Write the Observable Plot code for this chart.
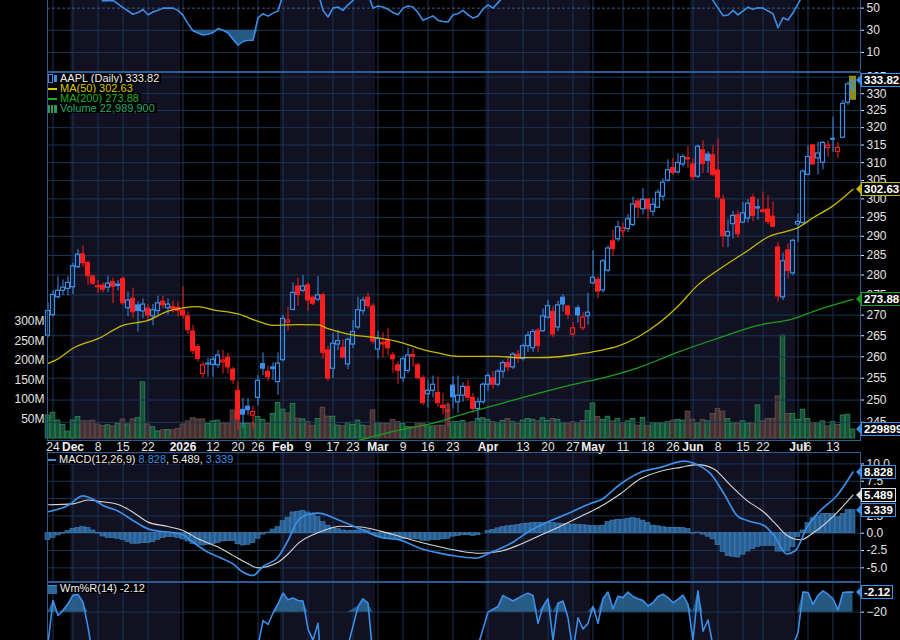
<!DOCTYPE html>
<html><head><meta charset="utf-8">
<script src="https://cdn.jsdelivr.net/npm/d3@7"></script>
<script src="https://cdn.jsdelivr.net/npm/@observablehq/plot@0.6"></script>
<style>
body{margin:0;background:#000;}
#chart{position:relative;width:900px;height:640px;background:#000;overflow:hidden;font-family:"Liberation Sans",Arial,sans-serif;}
.panel{position:absolute;left:0;line-height:0;}
.tag{position:absolute;left:861px;height:12px;line-height:12px;padding:0 2px;background:#050505;color:#fff;font-weight:bold;font-size:11.5px;white-space:nowrap;}
.arrow{position:absolute;left:856px;width:0;height:0;border-top:5px solid transparent;border-bottom:5px solid transparent;}
.leg{position:absolute;left:48px;font-size:11px;height:10px;line-height:10px;white-space:nowrap;background:#000;padding-right:2px;}
.icon{display:inline-block;vertical-align:middle;margin-right:3px;}
</style></head><body><div id="chart"></div>
<script>
// ---------------- DATA ----------------
// trading-day index 0 = 2025-11-21 ... 161 = 2026-07-17
const tickIndex = [1,5,10,15,20,27,33,38,42,47,52,57,61,66,71,76,81,88,95,100,105,109,115,120,125,129,134,139,143,150,152,157];
const tickText  = ["24","Dec","8","15","22","2026","12","20","26","Feb","9","17","23","Mar","9","16","23","Apr","13","20","27","May","11","18","26","Jun","8","15","22","Jul","6","13"];
const shadeFrom = [4.5, 46.5, 87.5, 128.5];
const shadeTo   = [26.5, 65.5, 108.5, 149.5];

const open = [265.0,270.0,274.4,276.0,276.5,276.9,282.0,285.3,283.1,279.6,277.2,277.3,276.8,278.2,277.6,279.0,271.7,274.0,272.4,270.9,271.6,269.7,271.0,273.3,271.7,272.0,271.8,271.1,269.7,266.0,262.3,256.0,258.4,258.1,258.0,258.7,259.8,257.0,252.1,247.8,248.5,246.5,250.5,258.3,256.5,257.5,254.1,259.2,268.2,271.3,277.1,276.0,277.4,274.3,273.8,274.9,261.5,257.2,262.9,262.1,258.2,262.9,267.0,271.0,274.3,272.1,261.7,263.3,264.0,260.3,258.0,255.0,256.7,260.4,258.0,255.0,251.3,252.1,251.6,248.7,247.6,253.3,249.5,251.0,253.0,250.5,248.0,249.5,253.5,255.0,253.5,256.5,258.5,257.5,260.5,259.5,262.5,262.0,266.2,266.1,269.4,270.8,267.0,274.3,272.1,265.3,271.7,266.8,269.7,277.9,278.8,276.1,281.1,288.7,289.2,291.3,291.9,293.0,299.3,297.2,299.8,296.5,297.6,300.6,305.0,308.5,307.3,309.5,311.3,309.5,306.1,313.5,312.3,312.1,307.8,299.8,290.0,293.2,295.6,293.6,294.7,300.3,297.4,296.9,297.1,295.2,287.1,274.4,286.3,280.4,293.1,293.5,306.6,314.9,311.2,310.0,314.1,316.8,313.0,317.1,327.3,331.5];
const high = [273.0,276.0,279.5,278.8,279.5,283.0,286.5,287.5,283.5,280.0,278.6,278.0,279.7,279.2,278.6,279.6,275.7,276.7,273.3,274.0,272.6,272.6,274.7,274.7,274.0,273.5,273.2,277.0,270.8,267.5,263.0,258.8,259.6,260.0,261.5,261.5,260.8,257.5,254.1,250.4,250.3,248.6,255.6,260.9,257.8,258.6,260.9,269.9,272.0,278.0,279.2,279.9,278.0,274.7,279.6,275.5,262.5,265.6,266.3,264.0,264.5,268.7,274.4,274.4,275.4,272.8,266.0,265.7,266.7,261.0,258.8,260.0,262.0,261.8,258.5,255.6,254.6,255.5,255.2,251.5,249.5,255.3,255.5,254.0,254.5,251.5,250.5,254.0,256.0,256.5,257.0,259.0,260.0,261.0,261.5,263.0,266.0,266.5,266.8,271.5,273.6,272.1,273.4,275.1,272.4,268.2,272.4,270.6,275.4,286.2,279.5,284.0,287.5,291.6,294.0,293.5,295.8,300.5,300.0,302.8,300.0,300.0,302.5,305.5,310.8,311.2,312.6,312.3,314.6,311.0,315.0,316.2,313.0,314.8,316.7,301.0,294.4,296.6,296.7,299.0,299.8,301.2,299.8,301.9,300.8,299.2,288.4,285.6,288.0,289.2,296.0,308.0,314.8,315.0,315.8,316.0,316.2,323.1,315.8,328.0,333.5,334.6];
const low = [264.5,269.5,274.0,274.8,274.8,275.1,281.6,282.0,277.4,277.4,275.3,275.5,275.6,272.8,276.0,272.4,269.6,269.2,265.9,269.1,268.5,267.4,269.9,271.5,270.0,270.5,269.6,269.0,265.3,260.5,258.8,254.9,255.2,255.2,257.3,256.0,256.0,253.6,243.2,243.7,246.5,243.5,248.7,255.6,254.2,254.5,251.0,258.8,266.0,271.0,272.1,275.5,270.9,272.3,273.3,259.4,254.3,254.9,261.4,259.5,257.0,262.0,266.5,270.0,271.5,263.0,259.5,259.7,260.2,256.2,253.6,254.0,256.0,257.5,254.5,248.8,248.2,250.5,248.4,246.7,244.0,248.0,247.0,249.5,249.8,247.0,245.5,249.0,252.0,252.5,253.0,255.0,256.5,257.0,258.5,259.0,261.0,261.0,261.0,265.8,269.0,264.5,266.0,270.7,268.9,264.6,268.0,266.2,267.5,277.5,274.0,275.5,280.5,284.7,288.5,289.6,291.0,292.5,294.7,295.7,294.5,295.3,297.5,299.3,304.5,306.4,306.8,308.7,308.4,305.0,305.6,307.0,307.0,306.0,299.8,287.0,287.0,289.3,289.5,293.5,293.5,293.8,294.2,296.1,293.1,292.3,273.2,273.6,279.0,279.8,288.4,293.0,306.4,309.3,306.6,308.0,311.5,312.9,311.2,316.8,326.5,330.0];
const close = [271.0,275.0,276.0,276.8,278.0,282.2,285.2,283.0,279.7,277.8,276.9,276.3,277.8,277.0,277.2,272.9,273.6,270.7,271.0,272.6,269.9,271.2,272.9,272.4,272.6,271.5,271.0,269.9,266.3,261.4,259.5,258.0,258.2,259.3,260.3,259.1,257.5,254.5,245.6,246.7,247.7,247.3,254.4,257.2,255.2,257.1,258.4,269.1,268.7,275.5,275.0,277.1,273.6,272.8,274.9,260.9,254.9,263.1,263.7,259.8,264.0,265.9,271.2,273.6,272.2,263.6,264.2,262.9,262.0,259.4,256.7,259.4,260.3,260.0,255.0,249.3,252.1,253.5,249.3,248.2,247.4,250.6,251.0,253.0,250.5,248.0,249.5,253.5,255.5,253.5,256.5,258.5,257.5,260.5,259.5,262.5,265.0,265.9,262.5,269.7,272.2,265.3,272.4,272.6,270.1,266.8,269.9,269.4,270.6,279.3,275.8,283.5,286.8,286.6,292.4,292.1,294.5,298.5,297.6,299.8,297.2,298.4,301.7,304.4,307.9,307.1,309.9,311.6,310.9,305.9,314.5,309.6,310.5,306.6,300.4,290.0,291.1,295.4,290.5,296.1,298.7,295.4,297.7,296.4,293.8,292.5,274.6,283.5,281.0,288.8,293.8,307.5,311.6,309.5,312.6,315.6,314.8,316.5,314.2,327.0,332.8,333.82];
const volumeM = [59,66,46,35,18,46,55,44,44,46,36,32,34,31,38,49,36,49,52,144,36,29,18,21,22,21,25,36,44,52,49,49,38,44,46,38,38,72,60,38,37,39,55,48,37,63,91,74,64,89,51,49,42,33,50,79,56,56,33,31,40,35,46,33,31,72,40,38,38,48,42,38,29,29,39,38,31,31,33,33,87,42,42,45,40,42,50,52,48,42,40,45,50,42,38,46,50,48,44,52,45,50,48,40,38,42,40,45,70,90,55,48,56,44,50,40,44,50,33,53,33,40,39,40,42,46,48,46,69,48,39,48,44,63,76,69,50,39,38,44,38,40,85,44,50,50,108,264,63,63,48,74,50,40,40,44,31,42,35,59,61,22.9899];

const ma50Index = [0,2,5,10,15,20,24,27,30,33,38,42,45,50,54,56,60,66,70,75,78,82,90,94,98,102,106,110,114,118,122,126,130,135,140,144,148,150,153,157,161];
const ma50Value = [258.4,259.5,262.0,264.3,267.5,268.7,271.0,271.8,272.1,271.3,270.3,268.5,267.5,267.7,267.6,266.7,265.4,264.5,263.6,261.7,260.9,260.1,260.1,259.8,259.8,260.0,260.6,261.4,262.5,264.7,267.9,272.2,277.5,282.1,286.3,289.8,291.4,292.3,294.9,298.1,302.63];
const ma200Index = [62,70,78,82,90,98,106,110,118,126,134,142,149,154,161];
const ma200Value = [241.0,243.2,245.1,246.5,249.0,251.5,253.8,254.8,257.4,261.1,264.4,267.5,269.1,271.3,273.88];

const macdIndex = [0,4,7,9,11,14,17,20,22,24.5,27,29,32,34.5,37,39,41,43,46,48,50,52,54,58.5,62.5,66.5,70.5,74.5,78.5,82.5,85.5,88.5,92.5,96.5,100.5,104.5,108.5,110.5,114.5,118.5,122.5,127.2,129.8,132.5,135.2,137.8,139.8,143.2,145.2,147.8,149.5,151.8,154.5,157.8,161];
const macdValue = [3.1,4.0,5.4,4.9,4.0,3.2,1.83,0.63,0.29,0.14,-0.23,-1.3,-2.74,-3.55,-4.42,-5.63,-6.1,-4.8,-3.46,-1.05,1.83,2.7,2.9,1.8,0.6,-0.6,-1.0,-2.2,-2.9,-3.4,-3.6,-2.8,-1.5,0.4,1.8,3.0,4.3,4.8,7.1,8.8,9.5,10.4,9.9,8.6,5.7,2.55,1.83,1.1,-0.33,-3.0,-2.5,0.87,3.3,5.44,8.828];
const signalIndex = [0,5,8,10,14,17,20,24,27,30,34,37,40,42,46,48,50,54.5,58.5,62.5,66.5,70.5,74.5,78.5,82.5,86.5,90.5,94.5,98.5,102.5,106.5,110.5,114.5,118.5,122.5,126.5,129.8,133.1,136.5,139.8,143.2,145.2,147.8,150.5,153.2,157.2,161];
const signalValue = [4.1,4.24,4.8,4.6,4.14,3.03,1.6,0.97,0.39,-0.81,-2.0,-3.2,-4.4,-5.0,-4.2,-3.0,-1.5,0.2,1.0,0.9,0.3,-0.5,-1.3,-2.0,-2.6,-2.9,-2.6,-1.6,-0.3,1.0,2.4,3.85,5.7,7.85,8.95,9.5,9.9,9.3,6.9,4.7,3.03,1.6,-0.33,-0.95,0.14,2.55,5.489];
const histValue = [-1.0,-0.67,-0.33,-0.05,0.3,0.63,0.77,0.87,0.77,0.39,-0.05,-0.48,-0.67,-0.72,-0.8,-0.96,-1.3,-1.53,-1.53,-1.44,-1.44,-1.3,-0.96,-0.72,-0.58,-0.58,-0.72,-0.9,-1.2,-1.53,-1.68,-1.78,-1.68,-1.6,-1.44,-1.2,-1.15,-1.15,-1.6,-1.78,-1.68,-1.44,-0.8,-0.2,0.1,0.53,0.87,1.73,2.2,3.0,3.1,3.2,3.0,2.7,2.3,1.6,1.1,0.8,0.6,0.4,0.3,0.3,0.4,0.5,0.4,-0.1,-0.5,-0.7,-0.8,-0.9,-1.0,-0.9,-0.8,-0.8,-0.9,-1.1,-1.1,-1.0,-1.0,-0.9,-0.8,-0.5,-0.4,-0.3,-0.3,-0.4,-0.3,0,0.3,0.5,0.7,0.9,1.0,1.1,1.2,1.3,1.4,1.5,1.5,1.5,1.5,1.45,1.4,1.35,1.3,1.25,1.2,1.15,1.1,1.05,1.0,1.1,1.6,1.83,1.95,1.95,2.1,2.2,2.05,1.83,1.5,1.1,1.0,0.87,0.8,0.8,0.8,0.75,0.63,-0.05,0.1,-0.2,-0.5,-0.9,-1.73,-2.7,-3.3,-3.4,-3.5,-3.1,-2.65,-2.3,-2.0,-1.83,-1.83,-1.83,-2.65,-2.65,-2.65,-2.0,-0.55,0.4,1.45,2.15,2.5,2.8,2.8,2.8,2.3,2.8,3.34,3.339];

const rsiIndex = [0,10,11,13,15,17,18,19,20,21,22,23,25,26,27,28,29,30,31,32,33,34,35,36,37,38,39,40,41,42,43,44,45,46,47,54,55,56,57,58,59,60,61,62,64,65,66,67,68,69,70,71,72,73,74,75,76,77,78,79,80,81,82,83,84,85,86,87,88,89,90,91,108,109,132,133,135,136,137,138,140,141,142,143,145,146,147,148,149,150,151,161];
const rsiValue = [65,62,56.5,57,50.5,44.5,46,48.8,44,46.5,48,50,50,48,43.5,36,29.5,27.5,25.8,26.5,28,31.5,30,27.5,22,16.7,20,21,21,41.3,45,42.8,45.5,47.5,62,64,48,42,50,51,48,53,57,62,63,50,52,51,49,46,44,50,52,51,46,39,41,43,39,38,37.5,44,45,48,44,41,43,49,53,50,55,60,62,70,70,57,43.2,43.8,48,43.9,50.9,49,50.3,50,45,32.3,41.3,39.3,45.8,53.9,62,80];

const wrIndex = [0,1,2,3,4,5,6,7,8,9,25,41,42,43,44,45,46,47,48,49,50,51,52,53,54,55,60,62,63,64,65,86,88,90,91,93,95,96,97,98,99,100,101,102,103,104,105,106,107,108,109,110,111,112,113,114,115,116,117,118,119,120,121,122,123,124,125,126,127,128,129,130,131,132,133,148,149,150,151,152,153,154,155,156,157,158,159,160,161];
const wrValue = [-48,-9.6,-23,-18.5,-12.5,-5,-4.2,-11,-33.4,-60,-80,-80,-50,-27.5,-31,-21,-12.7,-2.9,-9,-7.4,-9.6,-10,-35,-45,-30,-85,-50,-15,-8,-12,-60,-50,-20,-15,-5,-10,-5,-3,-5,-30,-15,-8,-45,-12,-10,-25,-55,-25,-35,-30,-15,-30,-8,-2,-17,-5.8,-7,-2.1,-6,-8,-9.5,-14.5,-11.6,-6,-4,-7,-11.6,-8.6,-4.8,-13,-45,-1,-37,-27,-50,-60,-50,-38,-2,-2.5,-13,-5,-1,-4,-8,-18,-2.5,-2.1,-2.12];

// ---------------- STYLE ----------------
const COL = {shade:"#111122", grid:"#1a3556", frame:"#2a5d92", blue:"#3a8fe8", red:"#ff1c1c", text:"#e4e4e4"};
const FONT = "'Liberation Sans', Arial, sans-serif";
const W = 900, ML = 47, MR = 40;
const XDOM = [-0.1, 162.5];

const bars = close.map((c, i) => ({
  i, o: open[i], h: high[i], l: low[i], c, v: volumeM[i],
  up: i === 0 ? true : c >= close[i - 1],
  hollow: c >= open[i]
}));
bars.forEach(d => d.col = d.up ? COL.blue : COL.red);
const pts = (I, V) => I.map((i, k) => ({i, v: V[k]}));
const ma50 = pts(ma50Index, ma50Value), ma200 = pts(ma200Index, ma200Value);
const macd = pts(macdIndex, macdValue), signal = pts(signalIndex, signalValue);
const hist = histValue.map((v, i) => ({i, v}));
const rsi = pts(rsiIndex, rsiValue), wr = pts(wrIndex, wrValue);
const shades = shadeFrom.map((a, k) => ({a, b: shadeTo[k]}));
const ticks = tickIndex.map((i, k) => ({i, t: tickText[k], bold: isNaN(+tickText[k]) || tickText[k] === "2026"}));

const root = document.getElementById("chart");
function place(svg, top) {
  const d = document.createElement("div");
  d.className = "panel"; d.style.top = top + "px";
  d.appendChild(svg); root.appendChild(d); return svg;
}
function base(ydom) {
  return [
    Plot.rect(shades, {x1: "a", x2: "b", y1: ydom[0], y2: ydom[1], fill: COL.shade}),
    Plot.ruleX(tickIndex, {stroke: COL.grid, strokeWidth: 1})
  ];
}
const common = (h, ydom, type) => ({
  width: W, height: h, marginLeft: ML, marginRight: MR, marginTop: 0, marginBottom: 0,
  style: {background: "transparent", color: COL.text, fontSize: "12px", fontFamily: FONT, overflow: "visible"},
  x: {domain: XDOM, axis: null},
  y: {type: type || "linear", domain: ydom, axis: null}
});

// ---- RSI panel (top, cut off) ----
const rsiDom = [-7.2, 56.9];
const rsiPlot = Plot.plot({...common(71, rsiDom), marks: [
  ...base(rsiDom),
  Plot.ruleY([30, 10], {stroke: COL.grid}),
  Plot.ruleY([50], {stroke: "#3a5a80", strokeDasharray: "3,2"}),
  Plot.areaY(rsi, {x: "i", y1: 30, y2: d => Math.min(d.v, 30), fill: "#2d6898", fillOpacity: 0.85, clip: true}),
  Plot.line(rsi, {x: "i", y: "v", stroke: COL.blue, strokeWidth: 1.6, clip: true}),
  Plot.axisY([10, 30, 50], {anchor: "right", tickSize: 3, tickPadding: 3, label: null}),
  Plot.ruleX([XDOM[0], XDOM[1]], {stroke: COL.frame}),
  Plot.ruleY([rsiDom[0]], {stroke: COL.frame})
]});
place(rsiPlot, 0);

// ---- Volume layer (behind price) ----
const volDom = [-5.1, 938.5];
const volPlot = Plot.plot({...common(368, volDom), marks: [
  ...base(volDom),
  Plot.rect(bars, {x1: d => d.i - 0.47, x2: d => d.i + 0.47, y1: 0, y2: "v",
    fill: d => d.up ? "#1b5a3c" : "#4a3535", stroke: d => d.up ? "#2f8a5d" : "#6e4f4f", strokeWidth: 0.8, fillOpacity: 0.9}),
  Plot.axisY([50, 100, 150, 200, 250, 300], {anchor: "left", tickSize: 0, tickPadding: 3, tickFormat: d => d + "M", label: null})
]});
place(volPlot, 72);

// ---- Price layer ----
const pDom = [241.0, 336.4];
const pGrid = d3.range(245, 336, 5);
const last = bars[bars.length - 1];
const pricePlot = Plot.plot({...common(368, pDom, "log"), marks: [
  Plot.ruleY(pGrid, {stroke: COL.grid}),
  Plot.rect([last], {x1: d => d.i - 0.7, x2: d => d.i + 0.7, y1: d => d.l * 0.994, y2: d => d.h * 1.002, fill: "#8f8c12"}),
  Plot.ruleX(bars, {x: "i", y1: "h", y2: d => Math.max(d.o, d.c), stroke: "col"}),
  Plot.ruleX(bars, {x: "i", y1: d => Math.min(d.o, d.c), y2: "l", stroke: "col"}),
  Plot.rect(bars.filter(d => !d.hollow), {x1: d => d.i - 0.4, x2: d => d.i + 0.4, y1: "o", y2: "c", fill: "col", stroke: "col", strokeWidth: 1}),
  Plot.rect(bars.filter(d => d.hollow), {x1: d => d.i - 0.4, x2: d => d.i + 0.4, y1: "o", y2: "c", fill: "none", stroke: "col", strokeWidth: 1.2}),
  Plot.line(ma50, {x: "i", y: "v", stroke: "#c9b800", strokeWidth: 1.3, curve: "monotone-x", clip: true}),
  Plot.line(ma200, {x: "i", y: "v", stroke: "#1c9e1c", strokeWidth: 1.3, curve: "monotone-x", clip: true}),
  Plot.axisY(pGrid, {anchor: "right", tickSize: 3, tickPadding: 3, label: null}),
  Plot.frame({stroke: COL.frame})
]});
place(pricePlot, 72);

// ---- Date row ----
const datePlot = Plot.plot({
  width: W, height: 12, marginLeft: ML, marginRight: MR, marginTop: 0, marginBottom: 0,
  style: {background: "transparent", color: COL.text, fontFamily: FONT, overflow: "visible"},
  x: {domain: XDOM, axis: null},
  marks: [
    Plot.text(ticks.filter(d => !d.bold), {x: "i", text: "t", frameAnchor: "middle", fontSize: 12, fill: COL.text}),
    Plot.text(ticks.filter(d => d.bold), {x: "i", text: "t", frameAnchor: "middle", fontSize: 12, fontWeight: "bold", fill: "#f0f0f0"})
  ]
});
place(datePlot, 441);

// ---- MACD panel ----
const mDom = [-6.97, 11.65];
const macdPlot = Plot.plot({...common(129, mDom), marks: [
  ...base(mDom),
  Plot.ruleY([-5, -2.5, 0, 2.5, 5, 7.5, 10], {stroke: COL.grid}),
  Plot.rect(hist, {x1: d => d.i - 0.5, x2: d => d.i + 0.5, y1: 0, y2: "v", fill: "#2b679d", fillOpacity: 0.9, stroke: "#4c8cc8", strokeWidth: 0.5}),
  Plot.line(signal, {x: "i", y: "v", stroke: "#d6d6d6", strokeWidth: 1.1, curve: "monotone-x"}),
  Plot.line(macd, {x: "i", y: "v", stroke: COL.blue, strokeWidth: 1.7, curve: "monotone-x"}),
  Plot.axisY([-5, -2.5, 0, 2.5, 5, 7.5, 10], {anchor: "right", tickSize: 3, tickPadding: 3, tickFormat: d => d.toFixed(1), label: null}),
  Plot.frame({stroke: COL.frame})
]});
place(macdPlot, 452);

// ---- Williams %R panel ----
const wDom = [-45.3, 6.5];
const wrPlot = Plot.plot({...common(58, wDom), marks: [
  ...base(wDom),
  Plot.ruleY([-20], {stroke: COL.grid}),
  Plot.areaY(wr, {x: "i", y1: -20, y2: d => Math.max(d.v, -20), fill: "#2d6898", fillOpacity: 0.85, clip: true}),
  Plot.line(wr, {x: "i", y: "v", stroke: COL.blue, strokeWidth: 1.6, clip: true}),
  Plot.axisY([-20], {anchor: "right", tickSize: 3, tickPadding: 3, label: null}),
  Plot.frame({stroke: COL.frame})
]});
place(wrPlot, 582);

// ---------------- value tags & legends ----------------
function tag(text, y, border, color) {
  const a = document.createElement("div");
  a.className = "arrow"; a.style.top = (y - 5) + "px"; a.style.borderRight = "5px solid " + border;
  root.appendChild(a);
  const t = document.createElement("div");
  t.className = "tag"; t.textContent = text;
  t.style.top = (y - 7) + "px"; t.style.border = "1.5px solid " + border; t.style.color = color || "#fff";
  root.appendChild(t);
}
const py = v => 72 + pricePlot.scale("y").apply(v);
const vy = v => 72 + volPlot.scale("y").apply(v);
const my = v => 452 + macdPlot.scale("y").apply(v);
const wy = v => 582 + wrPlot.scale("y").apply(v);
tag(close[161].toFixed(2), py(close[161]), COL.blue);
tag(ma50Value[ma50Value.length - 1].toFixed(2), py(ma50Value[ma50Value.length - 1]), "#c9b800");
tag(ma200Value[ma200Value.length - 1].toFixed(2), py(ma200Value[ma200Value.length - 1]), "#1ca01c");
tag(Math.round(volumeM[161] * 1e6).toString(), vy(volumeM[161]), COL.blue);
tag(macdValue[macdValue.length - 1].toFixed(3), my(macdValue[macdValue.length - 1]), COL.blue);
tag(signalValue[signalValue.length - 1].toFixed(3), my(signalValue[signalValue.length - 1]), "#e0e0e0");
tag(histValue[histValue.length - 1].toFixed(3), my(histValue[histValue.length - 1]), COL.blue);
tag(wrValue[wrValue.length - 1].toFixed(2), wy(wrValue[wrValue.length - 1]), COL.blue);

function legend(y, iconHtml, html) {
  const d = document.createElement("div");
  d.className = "leg"; d.style.top = (y - 5) + "px";
  d.innerHTML = iconHtml + html;
  root.appendChild(d);
}
const fmt = d3.format(",");
legend(77.5, '<span class="icon" style="width:3px;height:7px;border:1px solid #3a8fe8;margin-right:1px"></span><span class="icon" style="width:3px;height:7px;background:#3a8fe8"></span>',
  '<span style="color:#eee">AAPL (Daily) ' + close[161].toFixed(2) + '</span>');
legend(87.5, '<span class="icon" style="width:9px;height:2px;background:#d8c800"></span>',
  '<span style="color:#d8c800">MA(50) ' + ma50Value[ma50Value.length - 1].toFixed(2) + '</span>');
legend(97.5, '<span class="icon" style="width:9px;height:2px;background:#1fb01f"></span>',
  '<span style="color:#1fb01f">MA(200) ' + ma200Value[ma200Value.length - 1].toFixed(2) + '</span>');
legend(107.5, '<span class="icon" style="width:9px;height:8px;background:linear-gradient(90deg,#2a9a62 0 2px,transparent 2px 3px,#2a9a62 3px 5px,transparent 5px 6px,#2a9a62 6px 9px)"></span>',
  '<span style="color:#25a86a">Volume ' + fmt(Math.round(volumeM[161] * 1e6)) + '</span>');
legend(459, '<span class="icon" style="width:8px;height:2px;background:#3a8fe8"></span>',
  '<span style="color:#eee">MACD(12,26,9) </span><span style="color:#3a8fe8">' + macdValue[macdValue.length - 1].toFixed(3) +
  '</span><span style="color:#eee">, ' + signalValue[signalValue.length - 1].toFixed(3) + ', </span><span style="color:#3a8fe8">' +
  histValue[histValue.length - 1].toFixed(3) + '</span>');
legend(588, '<span class="icon" style="width:9px;height:8px;background:#2d6898;border-top:1px solid #3a8fe8"></span>',
  '<span style="color:#eee">Wm%R(14) ' + wrValue[wrValue.length - 1].toFixed(2) + '</span>');
</script></body></html>
